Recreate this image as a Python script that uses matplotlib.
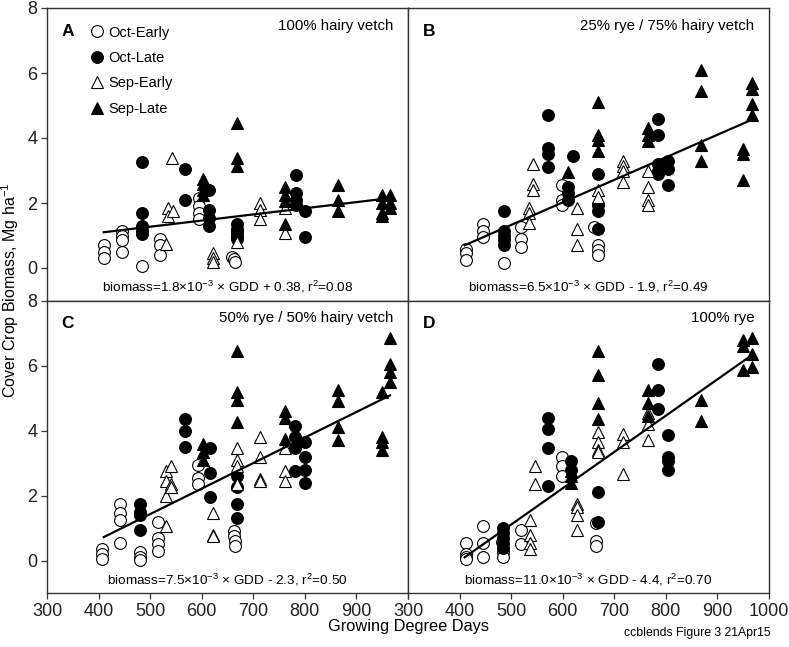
import matplotlib
matplotlib.use('Agg')
import matplotlib.pyplot as plt

plt.rcParams['font.family'] = ['Liberation Sans', 'DejaVu Sans']
plt.rcParams['mathtext.fontset'] = 'custom'
plt.rcParams['mathtext.rm'] = 'Liberation Sans'
plt.rcParams['mathtext.it'] = 'Liberation Sans:italic'
plt.rcParams['mathtext.bf'] = 'Liberation Sans:bold'
NARROW = ['Liberation Sans Narrow', 'Liberation Sans', 'DejaVu Sans']

# ---- panel A : 100% hairy vetch ----
a_oe_x = [410, 410, 410, 445, 445, 445, 445, 485, 520, 520, 520, 595, 595, 595, 595, 658, 662, 665]
a_oe_y = [0.7, 0.5, 0.3, 1.15, 1.0, 0.85, 0.5, 0.05, 0.9, 0.7, 0.4, 2.15, 1.9, 1.7, 1.5, 0.35, 0.28, 0.2]
a_ol_x = [485, 485, 485, 485, 485, 568, 568, 615, 615, 615, 615, 668, 668, 668, 668, 668, 782, 782, 782, 782, 800, 800]
a_ol_y = [3.25, 1.7, 1.3, 1.15, 1.05, 3.05, 2.1, 2.4, 1.8, 1.55, 1.3, 1.35, 1.2, 1.1, 1.0, 0.9, 2.85, 2.3, 2.1, 1.95, 1.75, 0.95]
a_se_x = [530, 542, 535, 535, 545, 622, 622, 622, 668, 713, 713, 713, 761, 761]
a_se_y = [0.75, 3.4, 1.85, 1.6, 1.75, 0.45, 0.3, 0.18, 0.8, 2.0, 1.8, 1.5, 1.85, 1.07]
a_sl_x = [603, 603, 603, 603, 668, 668, 668, 761, 761, 761, 761, 865, 865, 865, 949, 949, 949, 949, 965, 965, 965]
a_sl_y = [2.75, 2.6, 2.4, 2.25, 4.45, 3.4, 3.15, 2.5, 2.25, 2.05, 1.35, 2.55, 2.1, 1.75, 2.25, 2.0, 1.7, 1.6, 2.25, 2.0, 1.85]
a_fit_x = [410, 965]
a_fit_y = [1.1, 2.15]

# ---- panel B : 25% rye / 75% hairy vetch ----
b_oe_x = [412, 412, 412, 446, 446, 446, 486, 520, 520, 520, 598, 598, 598, 660, 668, 668, 668]
b_oe_y = [0.6, 0.45, 0.25, 1.35, 1.15, 0.95, 0.15, 1.25, 0.9, 0.65, 2.55, 2.1, 1.95, 1.25, 0.7, 0.55, 0.4]
b_ol_x = [486, 486, 486, 486, 486, 572, 572, 572, 572, 610, 610, 610, 620, 668, 668, 668, 668, 785, 785, 785, 785, 785, 805, 805, 805]
b_ol_y = [1.75, 1.15, 1.0, 0.85, 0.7, 4.7, 3.7, 3.5, 3.1, 2.5, 2.3, 2.1, 3.45, 2.9, 1.95, 1.75, 1.2, 4.6, 4.1, 3.2, 3.0, 2.9, 3.3, 3.05, 2.55]
b_se_x = [535, 535, 535, 543, 543, 543, 627, 627, 627, 668, 668, 717, 717, 717, 717, 766, 766, 766, 766]
b_se_y = [1.85, 1.7, 1.4, 3.2, 2.6, 2.4, 1.85, 1.2, 0.7, 2.4, 2.2, 3.3, 3.15, 3.0, 2.65, 3.0, 2.5, 2.1, 1.95]
b_sl_x = [610, 668, 668, 668, 668, 766, 766, 766, 869, 869, 869, 869, 950, 950, 950, 968, 968, 968, 968]
b_sl_y = [2.95, 5.1, 4.1, 3.95, 3.6, 4.3, 4.1, 3.9, 6.1, 5.45, 3.8, 3.3, 3.65, 3.5, 2.7, 5.7, 5.5, 5.05, 4.7]
b_fit_x = [410, 965]
b_fit_y = [0.7, 4.55]

# ---- panel C : 50% rye / 50% hairy vetch ----
c_oe_x = [406, 406, 406, 441, 441, 441, 441, 480, 480, 480, 516, 516, 516, 516, 593, 593, 593, 663, 663, 665, 665]
c_oe_y = [0.35, 0.2, 0.05, 1.75, 1.45, 1.25, 0.55, 0.27, 0.12, 0.02, 1.2, 0.7, 0.5, 0.3, 2.95, 2.55, 2.35, 0.9, 0.75, 0.6, 0.45]
c_ol_x = [480, 480, 480, 480, 568, 568, 568, 616, 616, 616, 668, 668, 668, 668, 781, 781, 781, 781, 800, 800, 800, 800]
c_ol_y = [1.75, 1.5, 1.4, 0.95, 4.35, 4.0, 3.5, 3.45, 2.7, 1.95, 2.6, 2.25, 1.75, 1.3, 4.15, 3.8, 3.45, 2.75, 3.65, 3.2, 2.8, 2.4]
c_se_x = [531, 531, 531, 531, 540, 540, 540, 622, 622, 622, 668, 668, 668, 668, 713, 713, 713, 713, 761, 761, 761]
c_se_y = [2.75, 2.45, 2.0, 1.05, 2.9, 2.35, 2.25, 1.45, 0.8, 0.75, 3.45, 3.1, 2.9, 2.35, 3.8, 3.2, 2.5, 2.45, 3.45, 2.75, 2.45]
c_sl_x = [603, 603, 603, 668, 668, 668, 668, 761, 761, 761, 865, 865, 865, 865, 949, 949, 949, 949, 965, 965, 965, 965]
c_sl_y = [3.6, 3.35, 3.1, 6.45, 5.2, 4.95, 4.25, 4.6, 4.4, 3.75, 5.25, 4.9, 4.1, 3.7, 5.2, 3.8, 3.65, 3.4, 6.85, 6.05, 5.8, 5.5]
c_fit_x = [410, 965]
c_fit_y = [0.72, 5.08]

# ---- panel D : 100% rye ----
d_oe_x = [412, 412, 412, 412, 446, 446, 446, 483, 485, 485, 520, 520, 598, 598, 598, 665, 665, 665]
d_oe_y = [0.55, 0.2, 0.1, 0.05, 1.05, 0.55, 0.1, 0.57, 0.25, 0.1, 0.95, 0.5, 3.2, 2.9, 2.6, 1.15, 0.6, 0.45]
d_ol_x = [485, 485, 485, 485, 485, 572, 572, 572, 572, 616, 616, 669, 669, 785, 785, 785, 805, 805, 805, 805]
d_ol_y = [1.0, 0.85, 0.7, 0.55, 0.4, 4.4, 4.05, 3.45, 2.3, 3.05, 2.8, 2.1, 1.2, 6.05, 5.25, 4.65, 3.85, 3.2, 3.05, 2.8]
d_se_x = [537, 537, 537, 537, 546, 546, 627, 627, 627, 627, 669, 669, 669, 669, 717, 717, 717, 766, 766, 766]
d_se_y = [1.25, 0.8, 0.55, 0.35, 2.9, 2.35, 1.75, 1.65, 1.4, 0.95, 3.95, 3.65, 3.4, 3.35, 3.9, 3.65, 2.65, 4.55, 4.2, 3.7]
d_sl_x = [616, 616, 616, 616, 669, 669, 669, 669, 766, 766, 766, 869, 869, 950, 950, 950, 968, 968, 968]
d_sl_y = [2.95, 2.75, 2.6, 2.4, 6.45, 5.7, 4.85, 4.35, 5.25, 4.85, 4.45, 4.95, 4.3, 6.8, 6.6, 5.85, 6.85, 6.35, 5.95]
d_fit_x = [410, 965]
d_fit_y = [0.1, 6.3]

letters = ['A', 'B', 'C', 'D']
titles = ['100% hairy vetch', '25% rye / 75% hairy vetch',
          '50% rye / 50% hairy vetch', '100% rye']
equations = [
    'biomass=1.8×10$^{-3}$ × GDD + 0.38, r$^{2}$=0.08',
    'biomass=6.5×10$^{-3}$ × GDD - 1.9, r$^{2}$=0.49',
    'biomass=7.5×10$^{-3}$ × GDD - 2.3, r$^{2}$=0.50',
    'biomass=11.0×10$^{-3}$ × GDD - 4.4, r$^{2}$=0.70',
]
series_names = ['Oct-Early', 'Oct-Late', 'Sep-Early', 'Sep-Late']

panels = [
    (a_oe_x, a_oe_y, a_ol_x, a_ol_y, a_se_x, a_se_y, a_sl_x, a_sl_y, a_fit_x, a_fit_y),
    (b_oe_x, b_oe_y, b_ol_x, b_ol_y, b_se_x, b_se_y, b_sl_x, b_sl_y, b_fit_x, b_fit_y),
    (c_oe_x, c_oe_y, c_ol_x, c_ol_y, c_se_x, c_se_y, c_sl_x, c_sl_y, c_fit_x, c_fit_y),
    (d_oe_x, d_oe_y, d_ol_x, d_ol_y, d_se_x, d_se_y, d_sl_x, d_sl_y, d_fit_x, d_fit_y),
]

fig = plt.figure(figsize=(7.89, 6.47), dpi=100)
W = 361 / 789
H = 292.5 / 647
lefts = [47 / 789, 408 / 789]
bottoms = [1 - 300.5 / 647, 1 - 593 / 647]
positions = [(lefts[0], bottoms[0]), (lefts[1], bottoms[0]),
             (lefts[0], bottoms[1]), (lefts[1], bottoms[1])]

styles = [
    dict(marker='o', mfc='white', mec='black', mew=0.8, ms=8.5),
    dict(marker='o', mfc='black', mec='black', mew=0.8, ms=8.5),
    dict(marker='^', mfc='white', mec='black', mew=0.8, ms=9),
    dict(marker='^', mfc='black', mec='black', mew=0.8, ms=9),
]

for i, p in enumerate(panels):
    ax = fig.add_axes([positions[i][0], positions[i][1], W, H])
    handles = []
    for k in range(4):
        h, = ax.plot(p[2 * k], p[2 * k + 1], ls='none', label=series_names[k], **styles[k])
        handles.append(h)
    ax.plot(p[8], p[9], color='black', lw=1.6)
    ax.set_xlim(300, 1000)
    ax.set_ylim(-1, 8)
    for s in ax.spines.values():
        s.set_linewidth(1.0)
        s.set_color('#333333')
    ax.tick_params(direction='out', length=4, width=0.9, color='#333333', pad=3)
    if i % 2 == 0:
        ax.set_yticks([0, 2, 4, 6, 8])
    else:
        ax.set_yticks([])
    if i >= 2:
        ax.set_xticks([300, 400, 500, 600, 700, 800, 900, 1000])
        if i == 2:
            ax.set_xticklabels(['300', '400', '500', '600', '700', '800', '900', ''])
    else:
        ax.set_xticks([])
    for t in ax.get_xticklabels() + ax.get_yticklabels():
        t.set_family(NARROW)
        t.set_fontsize(13)
        t.set_color('#222222')
    ax.text(0.04, 0.92, letters[i], transform=ax.transAxes, fontsize=12.5,
            fontweight='bold', va='center', ha='left')
    ax.text(0.96, 0.94, titles[i], transform=ax.transAxes, fontsize=10.8,
            va='center', ha='right')
    ax.text(0.5, 0.045, equations[i], transform=ax.transAxes, fontsize=9.7,
            va='center', ha='center')
    if i == 0:
        ax.legend(handles=handles, loc='upper left', bbox_to_anchor=(0.089, 0.975),
                  frameon=False, fontsize=10.5, handletextpad=0.3,
                  labelspacing=0.78, handlelength=1.0, borderaxespad=0.3)

fig.text(10 / 789, 1 - 290 / 647, 'Cover Crop Biomass, Mg ha$^{-1}$', rotation=90,
         fontsize=11.5, va='center', ha='center', family=NARROW)
fig.text(408 / 789, 1 - 627 / 647, 'Growing Degree Days', fontsize=11.8,
         va='center', ha='center', family=NARROW)
fig.text(771 / 789, 1 - 633 / 647, 'ccblends Figure 3 21Apr15', fontsize=8.8,
         va='center', ha='right', family=NARROW)

fig.savefig('out.png', dpi=100)
